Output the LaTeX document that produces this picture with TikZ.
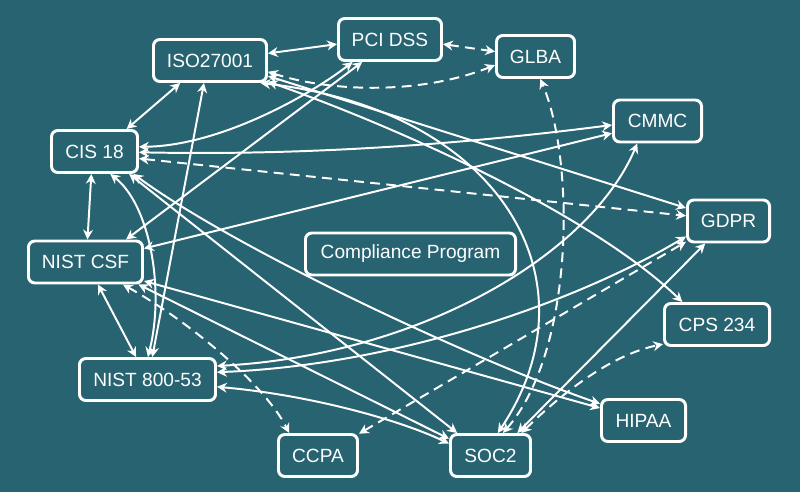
\documentclass[tikz,border=0pt]{standalone}
\usepackage{fontspec}
\setmainfont{Liberation Sans}
\usepackage{tikz}
\usetikzlibrary{
  arrows.meta,
  positioning,
  calc
}
\definecolor{cpTeal}{HTML}{286371}
\definecolor{cpLine}{HTML}{FFFFFF}
\tikzset{
  fwnode/.style={
    draw=cpLine, line width=2.1pt, rounded corners=4.5pt, minimum height=1.05cm,
    text=cpLine, font=\fontsize{13.6pt}{16pt}\selectfont, inner sep=0pt
  },
  link/.style={{Stealth[length=7pt,width=7pt]}-{Stealth[length=7pt,width=7pt]}, line width=1.4pt, cpLine},
  dlink/.style={link, dash pattern=on 7pt off 4.5pt}
}

\begin{document}
\begin{tikzpicture}[x=0.025cm, y=-0.025cm]
  \fill[cpTeal] (0,0) rectangle (800,492);
  \useasboundingbox (0,0) rectangle (800,492);
  \node[fwnode, minimum width=2.825cm] (iso) at (210,60.5) {ISO27001};
  \node[fwnode, minimum width=2.575cm] (pci) at (390,39.5) {PCI DSS};
  \node[fwnode, minimum width=1.95cm] (glba) at (535.5,56.5) {GLBA};
  \node[fwnode, minimum width=2.2cm] (cmmc) at (657.5,121) {CMMC};
  \node[fwnode, minimum width=2.15cm] (cis) at (94.5,151.5) {CIS 18};
  \node[fwnode, minimum width=2.05cm] (gdpr) at (728.5,221) {GDPR};
  \node[fwnode, minimum width=2.85cm] (csf) at (85.5,262) {NIST CSF};
  \node[fwnode, minimum width=5.25cm] (prog) at (410.5,254) {Compliance Program};
  \node[fwnode, minimum width=2.625cm] (cps) at (717,324.5) {CPS 234};
  \node[fwnode, minimum width=3.4cm] (n853) at (147.5,379.5) {NIST 800-53};
  \node[fwnode, minimum width=2.1cm] (hipaa) at (643.5,420.5) {HIPAA};
  \node[fwnode, minimum width=1.975cm] (ccpa) at (318,455.5) {CCPA};
  \node[fwnode, minimum width=2cm] (soc2) at (490.5,455.5) {SOC2};
  \foreach \a/\b in {iso.7/pci.185, iso.217/cis.35, iso.255/n853.78, iso.-15/gdpr.163,
    pci.219/csf.29, csf.13/cmmc.195, cis.262/csf.85, csf.-61/n853.117,
    cis.-33/soc2.146, csf.-18/hipaa.164, csf.-23/soc2.158, soc2.40/gdpr.224}
    {\draw[link] (\a) -- (\b);}
  \foreach \a/\b in {pci.-5/glba.173, cis.-9/gdpr.173, ccpa.28/gdpr.206}
    {\draw[dlink] (\a) -- (\b);}
  \draw[link] (iso.-20) .. controls (408,131) and (594,217) .. (cps.147);
  \draw[link] (iso.-24) .. controls (500,110) and (600,280) .. (soc2.72);
  \draw[link] (cis.6) .. controls (220,146) and (310,95) .. (pci.211);
  \draw[link] (cis.-1) .. controls (320,156) and (480,142) .. (cmmc.185);
  \draw[link] (cis.-55) .. controls (150,205) and (165,290) .. (n853.89);
  \draw[link] (cis.-30) .. controls (230,245) and (460,355) .. (hipaa.159);
  \draw[link] (n853.11) .. controls (420,355) and (590,255) .. (cmmc.228);
  \draw[link] (n853.6) .. controls (400,365) and (580,300) .. (gdpr.200);
  \draw[link] (n853.-6) .. controls (310,395) and (400,420) .. (soc2.164);
  \draw[dlink] (iso.-11) .. controls (330,92) and (420,95) .. (glba.192);
  \draw[dlink] (csf.-31) .. controls (190,322) and (265,385) .. (ccpa.142);
  \draw[dlink] (soc2.61) .. controls (575,350) and (575,160) .. (glba.-78);
  \draw[dlink] (soc2.36) .. controls (560,395) and (610,355) .. (cps.200);
\end{tikzpicture}
\end{document}
